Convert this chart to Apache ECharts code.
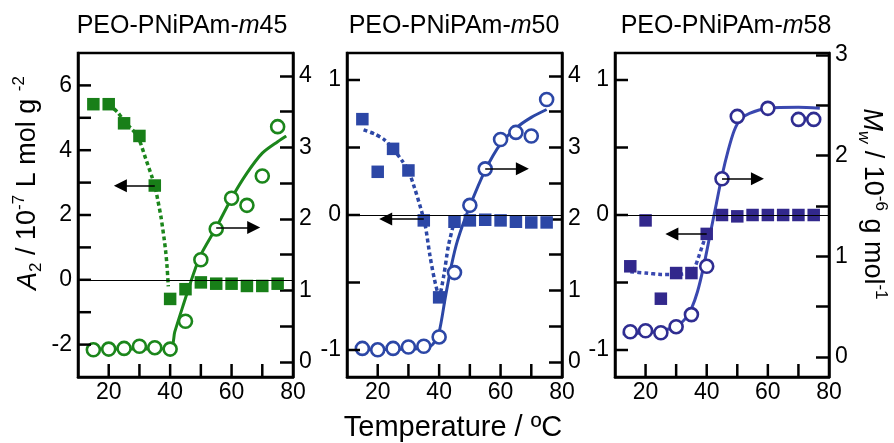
<!DOCTYPE html>
<html><head><meta charset="utf-8">
<script src="https://cdn.jsdelivr.net/npm/echarts@6/dist/echarts.min.js"></script>
<style>html,body{margin:0;padding:0;background:#fff}#c{width:894px;height:443px}</style>
</head><body><div id="c"></div>
<script>
// ---------------- data ----------------
const temps = [15,20,25,30,35,40,45,50,55,60,65,70,75];
const tempsM58Mw = [15,20,25,30,35,40,45,50,60,70,75];

const a2M45 = [5.42,5.42,4.83,4.44,2.91,-0.59,-0.29,-0.08,-0.12,-0.12,-0.19,-0.19,-0.12];
const mwM45 = [0.17,0.18,0.19,0.22,0.20,0.18,0.57,1.43,1.86,2.29,2.19,2.60,3.29];
const a2M50 = [0.71,0.32,0.49,0.33,-0.04,-0.61,-0.05,-0.04,-0.035,-0.04,-0.05,-0.055,-0.055];
const mwM50 = [0.19,0.17,0.19,0.21,0.22,0.35,1.25,2.19,2.70,3.11,3.21,3.16,3.67];
const a2M58 = [-0.38,-0.04,-0.62,-0.43,-0.43,-0.14,0.0,-0.01,0.0,0.0,0.0,0.0,0.0];
const mwM58 = [0.25,0.26,0.24,0.30,0.42,0.90,1.77,2.39,2.47,2.36,2.36];

// fitted guide curves
const fitA2M45T = [20,23,25,28,30,32,34,35,36,37,38,38.6,39,39.4];
const fitA2M45V = [5.42,5.16,4.9,4.6,4.3,3.75,3.2,2.9,2.45,1.95,1.3,0.83,0.4,-0.2];
const fitMwM45T = [15,40,41.5,44,47.5,50,55,60,65,70,75,77.8];
const fitMwM45V = [0.18,0.19,0.42,0.76,1.22,1.5,1.88,2.29,2.64,2.92,3.08,3.16];
const fitA2M50T = [15.4,19,22,25,28,30,32,34,35.5,37,38.5,40,41.5,43,44.9];
const fitA2M50V = [0.63,0.6,0.56,0.49,0.4,0.33,0.2,0.05,-0.08,-0.3,-0.48,-0.6,-0.45,-0.23,-0.05];
const fitMwM50T = [15,30,36,38,40,42,44,46,50,55,60,65,70,75];
const fitMwM50V = [0.17,0.18,0.2,0.25,0.42,0.9,1.35,1.7,2.18,2.68,3.05,3.27,3.42,3.53];
const fitA2M58T = [15,20,25,30,34,36,37.5,39,40];
const fitA2M58V = [-0.42,-0.43,-0.44,-0.44,-0.43,-0.39,-0.3,-0.2,-0.14];
const fitMwM58T = [12.5,20,25,30,33,35,37,39,41,43,45,47,49,51,54,60,70,77];
const fitMwM58V = [0.23,0.24,0.26,0.3,0.38,0.48,0.65,0.9,1.2,1.5,1.8,2.05,2.25,2.36,2.42,2.47,2.48,2.47];

// annotation arrows: [x start, x end, y]
const arrowA2M45 = [35, 23.8, 2.9];
const arrowMwM45 = [55, 67.2, 1.88];
const arrowA2M50 = [35, 22.6, -0.03];
const arrowMwM50 = [55, 67.1, 2.7];
const arrowA2M58 = [40, 28.6, -0.14];
const arrowMwM58 = [45, 56.6, 1.77];

// ticks / labels
const xTickValues = [20,30,40,50,60,70];
const xLabelValues = [20,40,60,80];
const a2M45Ticks = [-2,-1,0,1,2,3,4,5,6];
const a2M45Labels = [-2,0,2,4,6];
const a2SmallTicks = [-1,-0.5,0,0.5,1];
const a2SmallLabels = [-1,0,1];
const mw4Ticks = [0,0.5,1,1.5,2,2.5,3,3.5,4];
const mw4Labels = [0,1,2,3,4];
const mw3Ticks = [0,0.5,1,1.5,2,2.5,3];
const mw3Labels = [0,1,2,3];

const panelNames = ['45','50','58'];

// ---------------- chart ----------------
const FONT = '"Liberation Sans", Arial, Helvetica, sans-serif';
const zip = (a, b) => a.map((v, i) => [v, b[i]]);
const TICK_LEN = 13;

const grids = [
  {left:78, top:53, width:215, height:324},
  {left:347, top:53, width:215, height:324},
  {left:615, top:53, width:214, height:324}
].map(g => Object.assign(g, {show:true, borderColor:'#000', borderWidth:2.5}));

const axisCommon = (labelVals, tickVals, margin, showTick) => ({
  axisLine:{show:true, onZero:false, lineStyle:{color:'#000', width:2.5}},
  axisTick:{show:showTick, inside:true, length:TICK_LEN, customValues:tickVals, lineStyle:{color:'#000', width:2.5}},
  axisLabel:{show:true, customValues:labelVals, color:'#000', fontSize:23, fontFamily:FONT, margin:margin},
  splitLine:{show:false}
});

const xAxes = [0,1,2].map(i => Object.assign({type:'value', gridIndex:i, min:10, max:80}, axisCommon(xLabelValues, xTickValues, 4, false)));

const yAxes = [
  Object.assign({type:'value', gridIndex:0, position:'left', min:-3, max:7}, axisCommon(a2M45Labels, a2M45Ticks, 6, false)),
  Object.assign({type:'value', gridIndex:0, position:'right', min:-0.21, max:4.32}, axisCommon(mw4Labels, mw4Ticks, 6, true)),
  Object.assign({type:'value', gridIndex:1, position:'left', min:-1.2, max:1.2}, axisCommon(a2SmallLabels, a2SmallTicks, 6, false)),
  Object.assign({type:'value', gridIndex:1, position:'right', min:-0.21, max:4.32}, axisCommon(mw4Labels, mw4Ticks, 6, true)),
  Object.assign({type:'value', gridIndex:2, position:'left', min:-1.2, max:1.2}, axisCommon(a2SmallLabels, a2SmallTicks, 6, false)),
  Object.assign({type:'value', gridIndex:2, position:'right', min:-0.2, max:3.02}, axisCommon(mw3Labels, mw3Ticks, 6, true))
];
const leftTicks = [a2M45Ticks, a2SmallTicks, a2SmallTicks];

const zeroLine = {silent:true, symbol:'none', label:{show:false}, lineStyle:{color:'#000', width:1, type:'solid'}, data:[{yAxis:0}], animation:false};
const arrowLine = a => ({silent:true, symbol:['none','triangle'], symbolSize:13, label:{show:false},
  lineStyle:{color:'#000', width:1.5, type:'solid'}, itemStyle:{color:'#000'},
  data:[[{coord:[a[0], a[2]]}, {coord:[a[1], a[2]]}]], animation:false});

function panel(i, cSq, cCirc, cLine, a2, mwT, mw, fa2T, fa2V, fmwT, fmwV, arA2, arMw) {
  return [
    {type:'line', xAxisIndex:i, yAxisIndex:2*i, data:zip(fa2T, fa2V), showSymbol:false, smooth:0.25, z:2,
     lineStyle:{color:cLine, width:3.5, type:[4,3]}, markLine:zeroLine},
    {type:'scatter', xAxisIndex:i, yAxisIndex:2*i, data:zip(temps, a2), symbol:'rect', symbolSize:12.5, z:3,
     itemStyle:{color:cSq, opacity:1}, markLine:arrowLine(arA2)},
    {type:'line', xAxisIndex:i, yAxisIndex:2*i+1, data:zip(fmwT, fmwV), showSymbol:false, smooth:0.25, z:2,
     lineStyle:{color:cLine, width:3}},
    {type:'scatter', xAxisIndex:i, yAxisIndex:2*i+1, data:zip(mwT, mw), symbol:'circle', symbolSize:13, z:4,
     itemStyle:{color:'#fff', borderColor:cCirc, borderWidth:2.6, opacity:1}, markLine:arrowLine(arMw)}
  ];
}

const series = [].concat(
  panel(0, '#187f18', '#1b861b', '#1b861b', a2M45, temps, mwM45, fitA2M45T, fitA2M45V, fitMwM45T, fitMwM45V, arrowA2M45, arrowMwM45),
  panel(1, '#2c47a6', '#2c47a6', '#2c47a6', a2M50, temps, mwM50, fitA2M50T, fitA2M50V, fitMwM50T, fitMwM50V, arrowA2M50, arrowMwM50),
  panel(2, '#32288c', '#2f2d91', '#3a48b0', a2M58, tempsM58Mw, mwM58, fitA2M58T, fitA2M58V, fitMwM58T, fitMwM58V, arrowA2M58, arrowMwM58)
);

const txt = (x, y, text, rich, fontSize, rotation) => ({
  type:'text', x:x, y:y, rotation:rotation || 0, silent:true,
  style:{text:text, rich:rich, fill:'#000', fontSize:fontSize, fontFamily:FONT,
         align:'center', verticalAlign:'middle', textAlign:'center', textVerticalAlign:'middle'}
});

const titleRich = {
  n:{fontSize:25, fontFamily:FONT, color:'#000'},
  i:{fontSize:25, fontFamily:FONT, fontStyle:'italic', color:'#000'}
};
const yRich = {
  n:{fontSize:27, fontFamily:FONT, color:'#000', lineHeight:34},
  i:{fontSize:27, fontFamily:FONT, fontStyle:'italic', color:'#000', lineHeight:34},
  sb:{fontSize:17, fontFamily:FONT, color:'#000', verticalAlign:'bottom', lineHeight:20},
  isb:{fontSize:17, fontFamily:FONT, fontStyle:'italic', color:'#000', verticalAlign:'bottom', lineHeight:20},
  sp:{fontSize:17, fontFamily:FONT, color:'#000', verticalAlign:'top', lineHeight:20}
};
const panelCenters = [182, 454, 726];

const graphic = [
  ...panelNames.map((n, k) => txt(panelCenters[k], 26, '{n|PEO-PNiPAm-}{i|m}{n|' + n + '}', titleRich, 25)),
  txt(453, 428, 'Temperature / ºC', null, 29),
  txt(28, 183, '{i|A}{sb|2}{n| / 10}{sp|-7}{n| L mol g }{sp|-2}', yRich, 27, Math.PI/2),
  txt(872, 204, '{i|M}{isb|w}{n| / 10}{sp|-6}{n| g mol}{sp|-1}', yRich, 27, -Math.PI/2)
];

const chart = echarts.init(document.getElementById('c'), null, {renderer:'canvas'});
chart.setOption({
  animation:false,
  backgroundColor:'#fff',
  grid:grids,
  xAxis:xAxes,
  yAxis:yAxes,
  series:series,
  graphic:graphic
});

// inward ticks for the bottom and left axes, placed through the axes' own scales
const tickLine = (x1, y1, x2, y2) => ({type:'line', silent:true, z:100,
  shape:{x1:x1, y1:y1, x2:x2, y2:y2}, style:{stroke:'#000', lineWidth:2.5}});
const tickEls = [];
[0,1,2].forEach(i => {
  const yb = chart.convertToPixel({yAxisIndex:2*i}, yAxes[2*i].min);
  const xl = chart.convertToPixel({xAxisIndex:i}, xAxes[i].min);
  xTickValues.forEach(v => {
    const px = chart.convertToPixel({xAxisIndex:i}, v);
    tickEls.push(tickLine(px, yb, px, yb - TICK_LEN));
  });
  leftTicks[i].forEach(v => {
    const py = chart.convertToPixel({yAxisIndex:2*i}, v);
    tickEls.push(tickLine(xl, py, xl + TICK_LEN, py));
  });
});
chart.setOption({graphic: graphic.concat(tickEls)});
</script></body></html>
